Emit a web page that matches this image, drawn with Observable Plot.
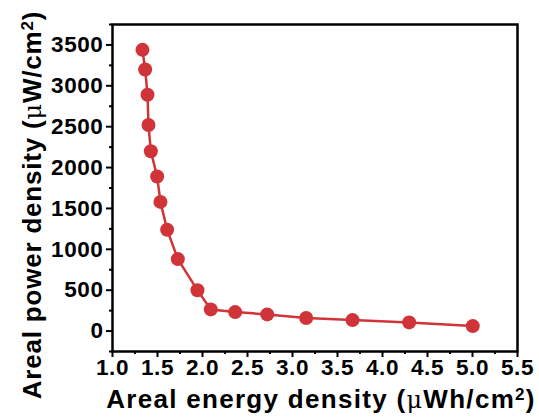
<!DOCTYPE html>
<html>
<head>
<meta charset="utf-8">
<script src="https://cdn.jsdelivr.net/npm/d3@7"></script>
<script src="https://cdn.jsdelivr.net/npm/@observablehq/plot@0.6"></script>
<style>
  html, body { margin: 0; padding: 0; background: #fff; }
</style>
</head>
<body>
<div id="chart"></div>
<script>
const energy = [1.333, 1.363, 1.389, 1.40, 1.426, 1.496, 1.533, 1.607, 1.726, 1.944, 2.092, 2.363, 2.719, 3.152, 3.667, 4.296, 5.003];
const power  = [3440, 3200, 2890, 2520, 2200, 1890, 1580, 1240, 880, 500, 265, 232, 204, 159, 134, 106, 61];
const xTicks = [1.0, 1.5, 2.0, 2.5, 3.0, 3.5, 4.0, 4.5, 5.0, 5.5];
const xMinor = [1.25, 1.75, 2.25, 2.75, 3.25, 3.75, 4.25, 4.75, 5.25];
const yTicks = [0, 500, 1000, 1500, 2000, 2500, 3000, 3500];
const yMinor = [-250, 250, 750, 1250, 1750, 2250, 2750, 3250, 3750];
// label parts: [text, kind] where kind is "n" normal, "mu" symbol, "sup" superscript
const xLabelParts = [["Areal energy density (", "n"], ["μ", "mu"], ["Wh/cm", "n"], ["2", "sup"], [")", "n"]];
const yLabelParts = [["Areal power density (", "n"], ["μ", "mu"], ["W/cm", "n"], ["2", "sup"], [")", "n"]];
const xLabel = xLabelParts.map(d => d[0]).join("");
const yLabel = yLabelParts.map(d => d[0]).join("");

const data = energy.map((e, i) => ({e, p: power[i]}));
const red = "#d13438";

const chart = Plot.plot({
  width: 539,
  height: 418,
  marginLeft: 112,
  marginRight: 22,
  marginTop: 24,
  marginBottom: 67,
  style: {fontFamily: "'Liberation Sans', Arial, sans-serif", fontWeight: "bold", fontSize: "22.5px", color: "#000", background: "#fff", overflow: "visible"},
  x: {domain: [1.0, 5.5]},
  y: {domain: [-250, 3750]},
  marks: [
    Plot.axisX({ticks: xMinor, tickSize: 3, strokeWidth: 2, tickFormat: () => "", label: null}),
    Plot.axisY({ticks: yMinor, tickSize: 3, strokeWidth: 2, tickFormat: () => "", label: null}),
    Plot.axisX({ticks: xTicks, tickSize: 6, strokeWidth: 2, tickPadding: 2, tickFormat: d3.format(".1f"),
      label: xLabel, labelAnchor: "center", labelArrow: "none", labelOffset: 56}),
    Plot.axisY({ticks: yTicks, tickSize: 6, strokeWidth: 2, tickPadding: 3, tickFormat: d => String(d),
      label: yLabel, labelAnchor: "center", labelArrow: "none", labelOffset: 90}),
    Plot.frame({stroke: "#000", strokeWidth: 2.5}),
    Plot.line(data, {x: "e", y: "p", stroke: red, strokeWidth: 2.5}),
    Plot.dot(data, {x: "e", y: "p", r: 7, fill: red, stroke: "none"})
  ]
});
document.getElementById("chart").appendChild(chart);
d3.select(chart).selectAll('g[aria-label="x-axis tick label"] text, g[aria-label="y-axis tick label"] text')
  .style("letter-spacing", "0.6px");

function richLabel(sel, parts, spacing, shift) {
  sel.each(function() {
    const t = d3.select(this);
    t.style("font-size", "26px").style("letter-spacing", spacing).attr("dx", shift).text(null);
    parts.forEach(([s, k]) => {
      const sp = t.append("tspan").text(s);
      if (k === "mu") sp.style("font-family", "'DejaVu Serif', 'Liberation Serif', serif").style("font-weight", "normal").style("font-size", "24px");
      if (k === "sup") sp.attr("dy", "-0.45em").style("font-size", "17px");
      if (k === "n" && s === ")") sp.attr("dy", "0.3em");
    });
  });
}
richLabel(d3.select(chart).selectAll('g[aria-label="x-axis label"] text'), xLabelParts, "1.3px", 6);
richLabel(d3.select(chart).selectAll('g[aria-label="y-axis label"] text'), yLabelParts, "0.8px", -17);
</script>
</body>
</html>
